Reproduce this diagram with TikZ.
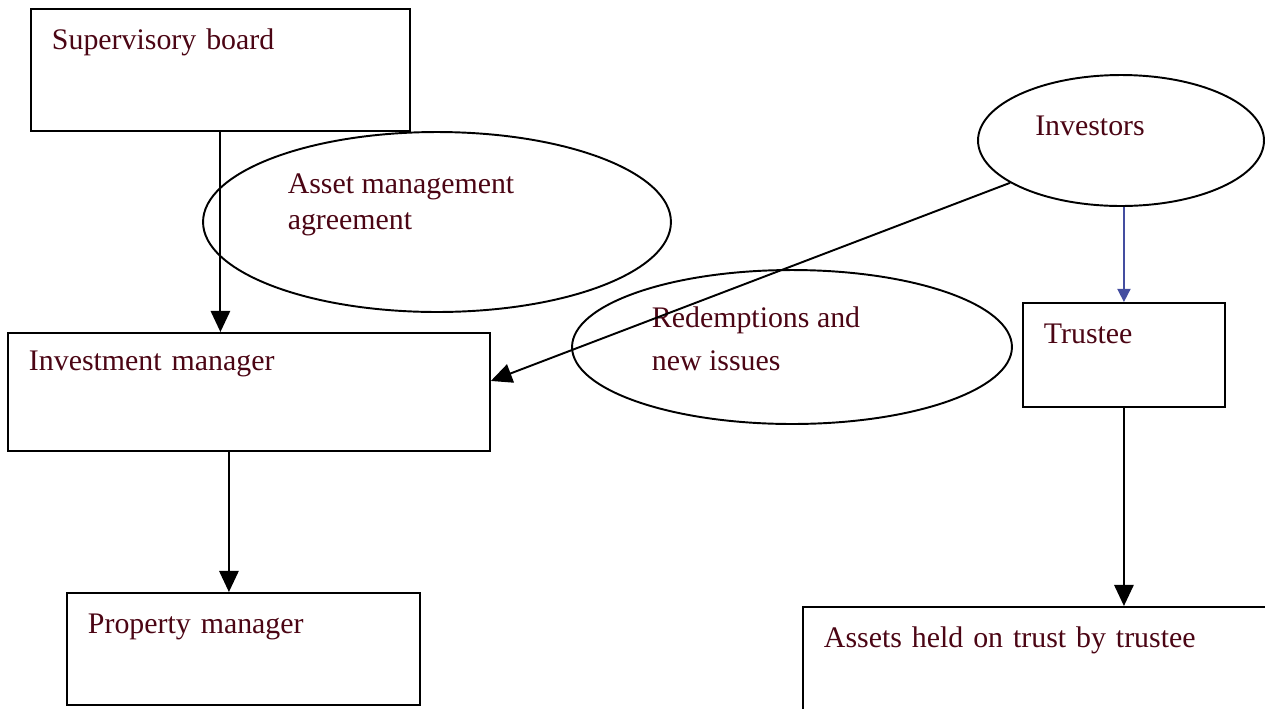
\documentclass[tikz,border=0pt]{standalone}
\usepackage{fontspec}
\setmainfont{Liberation Serif}
\usetikzlibrary{positioning,shapes.geometric,arrows.meta}
\definecolor{labelred}{RGB}{75,5,20}
\definecolor{linkblue}{RGB}{68,78,160}

\begin{document}
\begin{tikzpicture}[x=0.02cm, y=-0.02cm,
  box/.style={draw, line width=1.1pt, anchor=north west, align=left, text=labelred,
    font=\fontsize{17}{20.5}\selectfont, inner xsep=0.42cm, inner ysep=0.41cm, text height=0.41cm},
  oval/.style={draw, ellipse, line width=1.1pt, inner sep=0pt},
  lbl/.style={align=left, text=labelred,
    font=\fontsize{17}{20.5}\selectfont, inner sep=0pt},
  arr/.style={line width=1.1pt, -{Triangle[length=12pt, width=11pt]}}]
\useasboundingbox (0,0) rectangle (1265,708);

% Boxes
\node[box, text width=6.74cm, text depth=1.21cm] (sup) at (30,8) {Supervisory board};
\node[box, text width=8.80cm, text height=0.35cm, text depth=1.19cm] (invm) at (7,332) {Investment manager};
\node[box, text width=6.22cm, text depth=1.01cm] (prop) at (66,592) {Property manager};
\node[box, text width=3.20cm, text depth=0.85cm] (trustee) at (1022,302) {Trustee};
\node[box, text width=9.12cm, text depth=1.05cm] (assets) at (802,606) {Assets held on trust by trustee};

% Ellipses
\node[oval, minimum width=9.36cm, minimum height=3.6cm,
  label={[lbl, xshift=-0.72cm, yshift=0.34cm]center:{Asset management\\agreement}}] (agree) at (437,222) {};
\node[oval, minimum width=8.8cm, minimum height=3.08cm,
  label={[lbl, xshift=-0.72cm, yshift=0.16cm]center:{Redemptions and\\[4pt]new issues}}] (redeem) at (792,347) {};
\node[oval, minimum width=5.72cm, minimum height=2.62cm,
  label={[lbl, xshift=-0.62cm, yshift=0.29cm]center:{Investors}}] (inv) at (1121,140.5) {};

% Arrows
\draw[arr] (sup.south) -- (sup.south |- invm.north);
\draw[arr] (inv) -- ([yshift=0.22cm]invm.east);
\draw[line width=0.9pt, linkblue, -{Triangle[length=7.5pt, width=7.5pt]}] (trustee.north |- inv.south) -- (trustee.north);
\draw[arr] ([xshift=-0.29cm]prop.north |- invm.south) -- ([xshift=-0.29cm]prop.north);
\draw[arr] (trustee.south) -- (trustee.south |- assets.north);

\end{tikzpicture}
\end{document}
